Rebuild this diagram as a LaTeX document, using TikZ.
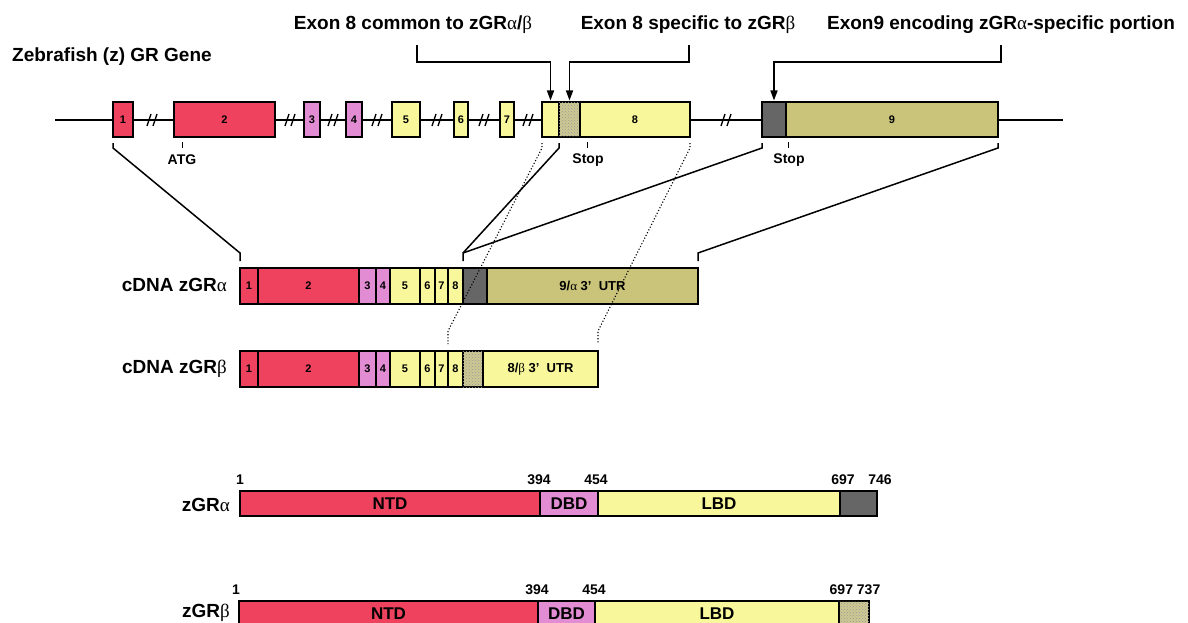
\documentclass[tikz,border=0pt]{standalone}
\usepackage{fontspec}
\setmainfont{Liberation Sans}
\newfontfamily\grk{Liberation Serif}
\usetikzlibrary{arrows.meta,patterns}
\definecolor{exred}{RGB}{238,66,94}
\definecolor{expink}{RGB}{226,140,212}
\definecolor{exyel}{RGB}{248,247,155}
\definecolor{exolive}{RGB}{201,196,122}
\definecolor{exdark}{RGB}{102,102,102}
\definecolor{exhatch}{RGB}{206,200,146}
\newcommand\fsz[1]{\fontsize{#1}{#1}\selectfont}
\newcommand\ga{{\grk\mdseries α}}
\newcommand\gb{{\grk\mdseries β}}
\newcommand\segbox[8][]{% [extra] name, x1, x2, y1, y2, fill, text
  \node[segstyle, fill=#7, minimum width={(#4)-(#3)}, minimum height={(#6)-(#5)}, #1]
    (#2) at ({((#3)+(#4))/2},{((#5)+(#6))/2}) {#8};}
\tikzset{
  segstyle/.style={draw=black, line width=2.9pt, inner sep=0pt, outer sep=0pt, font=\bfseries\fsz{11}},
  hatchbox/.style={postaction={pattern=crosshatch dots, pattern color=black!40}},
  gline/.style={line width=2.5pt},
  brk/.style={line width=1.3pt},
  arr/.style={line width=1.5pt, -{Triangle[length=10pt,width=7pt]}, shorten >=1.5pt},
  conn/.style={line width=1.5pt},
  dconn/.style={line width=1.1pt, dotted},
  tick/.style={line width=1pt},
  biglab/.style={font=\bfseries\fsz{19}, inner sep=0pt},
  smalllab/.style={font=\bfseries\fsz{14}, inner sep=0pt},
  numlab/.style={font=\bfseries\fsz{14}, inner sep=0pt},
  utr/.style={font=\bfseries\fsz{13}},
  dom/.style={font=\bfseries\fsz{17}},
}
\begin{document}
\begin{tikzpicture}[x=1pt,y=-1pt]
\useasboundingbox (0,0) rectangle (1188,623);

% ---------------- gene ----------------
\node[biglab, anchor=west] (title) at (12,57) {Zebrafish (z) GR Gene};
\coordinate (gs) at (55,120);
\coordinate (ge) at (1063,120);
\draw[gline] (gs) -- (ge);
\foreach \x in {152,290,333,377,437,484,528,726}{
  \draw[brk] (\x-5,126) -- (\x-1,114);
  \draw[brk] (\x+1,126) -- (\x+5,114);
}
\segbox{e1}{113}{133}{102}{137}{exred}{1}
\segbox{e2}{174}{275}{102}{137}{exred}{2}
\segbox{e3}{304}{320}{102}{137}{expink}{3}
\segbox{e4}{346}{362}{102}{137}{expink}{4}
\segbox{e5}{392}{420}{102}{137}{exyel}{5}
\segbox{e6}{454}{468}{102}{137}{exyel}{6}
\segbox{e7}{500}{514}{102}{137}{exyel}{7}
\segbox{e8a}{542}{559}{102}{137}{exyel}{}
\segbox[hatchbox]{e8b}{559}{580}{102}{137}{exhatch}{}
\segbox{e8c}{580}{690}{102}{137}{exyel}{8}
\segbox{e9a}{762}{786}{102}{137}{exdark}{}
\segbox{e9b}{786}{998}{102}{137}{exolive}{9}

% ticks
\draw[tick] (182,142) -- (182,148);
\node[smalllab] (atg) at (182,160) {ATG};
\draw[tick] (587,142) -- (587,148);
\node[smalllab] (stop1) at (588,160) {Stop};
\draw[tick] (788,142) -- (788,148);
\node[smalllab] (stop2) at (789,160) {Stop};

% top labels and arrows
\node[biglab] (lab1) at (413,25) {Exon 8 common to zGR\ga/\gb};
\node[biglab] (lab2) at (688,25) {Exon 8 specific to zGR\gb};
\node[biglab] (lab3) at (1001,25) {Exon9 encoding zGR\ga-specific portion};
\draw[arr] (417,45) |- (e8a.north |- 0,62) -- (e8a.north);
\draw[arr] (689,45) |- (e8b.north |- 0,62) -- (e8b.north);
\draw[arr] (1001,45) |- (e9a.north |- 0,62) -- (e9a.north);

% ---------------- cDNA alpha ----------------
\node[biglab, anchor=east] (cdnaA) at (227,285) {cDNA zGR\ga};
\segbox{a1}{240}{258}{268}{304}{exred}{1}
\segbox{a2}{258}{359}{268}{304}{exred}{2}
\segbox{a3}{359}{376}{268}{304}{expink}{3}
\segbox{a4}{376}{390}{268}{304}{expink}{4}
\segbox{a5}{390}{420}{268}{304}{exyel}{5}
\segbox{a6}{420}{435}{268}{304}{exyel}{6}
\segbox{a7}{435}{448}{268}{304}{exyel}{7}
\segbox{a8}{448}{463}{268}{304}{exyel}{8}
\segbox{a9}{463}{487}{268}{304}{exdark}{}
\segbox[utr]{aU}{487}{698}{268}{304}{exolive}{9/\ga\ 3’\ \ UTR}

% ---------------- cDNA beta ----------------
\node[biglab, anchor=east] (cdnaB) at (227,369) {cDNA zGR\gb};
\segbox{b1}{240}{258}{351}{387}{exred}{1}
\segbox{b2}{258}{359}{351}{387}{exred}{2}
\segbox{b3}{359}{376}{351}{387}{expink}{3}
\segbox{b4}{376}{390}{351}{387}{expink}{4}
\segbox{b5}{390}{420}{351}{387}{exyel}{5}
\segbox{b6}{420}{435}{351}{387}{exyel}{6}
\segbox{b7}{435}{448}{351}{387}{exyel}{7}
\segbox{b8}{448}{463}{351}{387}{exyel}{8}
\segbox[hatchbox]{b9}{463}{483}{351}{387}{exhatch}{}
\segbox[utr]{bU}{483}{598}{351}{387}{exyel}{8/\gb\ 3’\ \ UTR}

% ---------------- connectors ----------------
\draw[conn] ([yshift=-6pt]e1.south west) -- ++(0,5) -- ([yshift=15pt]a1.north west) -- ([yshift=7pt]a1.north west);
\draw[conn] ([yshift=-6pt]e8a.south east) -- ++(0,5) -- ([yshift=15pt]a8.north east) -- ([yshift=7pt]a8.north east);
\draw[conn] ([yshift=-6pt]e9a.south west) -- ++(0,5) -- ([yshift=15pt]a8.north east);
\draw[conn] ([yshift=-6pt]e9b.south east) -- ++(0,5) -- ([yshift=15pt]aU.north east) -- ([yshift=7pt]aU.north east);
\draw[dconn] ([yshift=-6pt]e8a.south west) -- ++(0,5) -- ([yshift=20pt]b8.north west) -- ([yshift=7pt]b8.north west);
\draw[dconn] ([yshift=-6pt]e8c.south east) -- ++(0,5) -- ([yshift=20pt]bU.north east) -- ([yshift=7pt]bU.north east);

% ---------------- proteins ----------------
\node[biglab, anchor=east] (pA) at (230,505) {zGR\ga};
\segbox[dom]{pa1}{240}{540}{491}{516}{exred}{NTD}
\segbox[dom]{pa2}{540}{598}{491}{516}{expink}{DBD}
\segbox[dom]{pa3}{598}{840}{491}{516}{exyel}{LBD}
\segbox{pa4}{840}{877}{491}{516}{exdark}{}
\node[numlab, anchor=west] (na1) at (236,480) {1};
\node[numlab] (na394) at (539,480) {394};
\node[numlab] (na454) at (596,480) {454};
\node[numlab] (na697) at (843,480) {697};
\node[numlab] (na746) at (880,480) {746};

\node[biglab, anchor=east] (pB) at (230,613) {zGR\gb};
\segbox[dom]{pb1}{239}{538}{601}{627}{exred}{NTD}
\segbox[dom]{pb2}{538}{595}{601}{627}{expink}{DBD}
\segbox[dom]{pb3}{595}{839}{601}{627}{exyel}{LBD}
\segbox[hatchbox]{pb4}{839}{869}{601}{627}{exhatch}{}
\node[numlab, anchor=west] (nb1) at (232,590) {1};
\node[numlab] (nb394) at (537,590) {394};
\node[numlab] (nb454) at (594,590) {454};
\node[numlab] (nb697) at (855,590) {697 737};
\end{tikzpicture}
\end{document}
